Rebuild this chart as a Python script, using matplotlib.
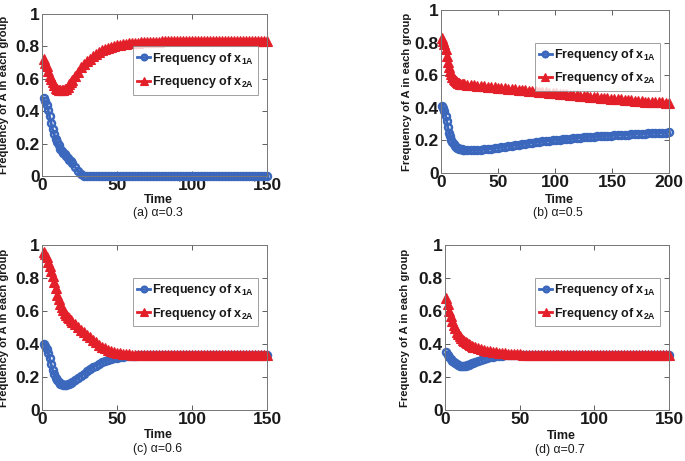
import numpy as np
import matplotlib
matplotlib.use("Agg")
import matplotlib.pyplot as plt

plt.rcParams['font.family'] = ['Liberation Sans', 'DejaVu Sans']
plt.rcParams['mathtext.default'] = 'regular'

# ---------------- data ----------------
t_a = list(range(1, 21)) + list(range(22, 151, 2))
x1_a = [0.48, 0.46, 0.44, 0.41, 0.37, 0.33, 0.29, 0.26, 0.23, 0.21,
        0.19, 0.165, 0.155, 0.145, 0.135, 0.125, 0.113, 0.10, 0.09, 0.078,
        0.055, 0.032, 0.01, 0.0, 0.0, 0.0, 0.0, 0.0, 0.0, 0.0,
        0.0, 0.0, 0.0, 0.0, 0.0, 0.0, 0.0, 0.0, 0.0, 0.0,
        0.0, 0.0, 0.0, 0.0, 0.0, 0.0, 0.0, 0.0, 0.0, 0.0,
        0.0, 0.0, 0.0, 0.0, 0.0, 0.0, 0.0, 0.0, 0.0, 0.0,
        0.0, 0.0, 0.0, 0.0, 0.0, 0.0, 0.0, 0.0, 0.0, 0.0,
        0.0, 0.0, 0.0, 0.0, 0.0, 0.0, 0.0, 0.0, 0.0, 0.0,
        0.0, 0.0, 0.0, 0.0, 0.0]
x2_a = [0.72, 0.70, 0.68, 0.65, 0.62, 0.60, 0.58, 0.56, 0.545, 0.535,
        0.53, 0.528, 0.528, 0.53, 0.535, 0.54, 0.55, 0.565, 0.58, 0.595,
        0.62, 0.645, 0.67, 0.69, 0.71, 0.725, 0.74, 0.755, 0.765, 0.775,
        0.785, 0.79, 0.797, 0.802, 0.806, 0.81, 0.813, 0.816, 0.818, 0.82,
        0.822, 0.823, 0.825, 0.826, 0.827, 0.828, 0.829, 0.83, 0.83, 0.831,
        0.832, 0.832, 0.832, 0.833, 0.833, 0.833, 0.833, 0.834, 0.834, 0.834,
        0.834, 0.834, 0.834, 0.835, 0.835, 0.835, 0.835, 0.835, 0.835, 0.835,
        0.835, 0.835, 0.835, 0.835, 0.835, 0.835, 0.835, 0.835, 0.835, 0.835,
        0.835, 0.835, 0.835, 0.835, 0.835]

t_b = list(range(1, 21)) + list(range(23, 201, 3))
x1_b = [0.41, 0.40, 0.38, 0.35, 0.32, 0.28, 0.245, 0.225, 0.205, 0.19,
        0.178, 0.168, 0.161, 0.156, 0.152, 0.149, 0.147, 0.145, 0.144, 0.143,
        0.141, 0.140, 0.140, 0.141, 0.143, 0.145, 0.147, 0.150, 0.153, 0.156,
        0.159, 0.162, 0.165, 0.168, 0.171, 0.174, 0.177, 0.180, 0.183, 0.186,
        0.189, 0.191, 0.194, 0.196, 0.198, 0.200, 0.202, 0.204, 0.206, 0.208,
        0.210, 0.212, 0.214, 0.216, 0.218, 0.219, 0.221, 0.223, 0.224, 0.226,
        0.227, 0.229, 0.230, 0.231, 0.233, 0.234, 0.235, 0.236, 0.238, 0.239,
        0.240, 0.241, 0.242, 0.243, 0.244, 0.245, 0.246, 0.247, 0.248, 0.249]
x2_b = [0.83, 0.81, 0.79, 0.76, 0.72, 0.68, 0.65, 0.625, 0.605, 0.59,
        0.578, 0.568, 0.562, 0.557, 0.553, 0.55, 0.548, 0.546, 0.544, 0.543,
        0.541, 0.539, 0.537, 0.535, 0.533, 0.531, 0.529, 0.527, 0.525, 0.523,
        0.521, 0.519, 0.517, 0.515, 0.513, 0.511, 0.509, 0.507, 0.505, 0.503,
        0.501, 0.499, 0.497, 0.495, 0.493, 0.491, 0.489, 0.487, 0.485, 0.483,
        0.481, 0.479, 0.477, 0.475, 0.473, 0.471, 0.469, 0.467, 0.465, 0.463,
        0.461, 0.459, 0.457, 0.455, 0.453, 0.451, 0.449, 0.447, 0.445, 0.443,
        0.441, 0.439, 0.438, 0.437, 0.436, 0.435, 0.434, 0.433, 0.432, 0.431]

t_c = list(range(1, 21)) + list(range(22, 151, 2))
x1_c = [0.40, 0.39, 0.37, 0.345, 0.315, 0.28, 0.245, 0.22, 0.195, 0.18,
        0.168, 0.16, 0.155, 0.152, 0.151, 0.152, 0.155, 0.159, 0.164, 0.17,
        0.182, 0.195, 0.208, 0.221, 0.234, 0.246, 0.258, 0.269, 0.279, 0.288,
        0.296, 0.303, 0.309, 0.314, 0.318, 0.321, 0.324, 0.326, 0.328, 0.329,
        0.330, 0.331, 0.332, 0.333, 0.333, 0.334, 0.334, 0.334, 0.334, 0.334,
        0.334, 0.334, 0.334, 0.334, 0.334, 0.334, 0.334, 0.334, 0.334, 0.334,
        0.334, 0.334, 0.334, 0.334, 0.334, 0.334, 0.334, 0.334, 0.334, 0.334,
        0.334, 0.334, 0.334, 0.334, 0.334, 0.334, 0.334, 0.334, 0.334, 0.334,
        0.334, 0.334, 0.334, 0.334, 0.334]
x2_c = [0.96, 0.945, 0.925, 0.90, 0.875, 0.845, 0.81, 0.775, 0.74, 0.70,
        0.67, 0.645, 0.625, 0.605, 0.59, 0.577, 0.565, 0.555, 0.545, 0.535,
        0.52, 0.505, 0.485, 0.47, 0.455, 0.44, 0.425, 0.41, 0.395, 0.383,
        0.373, 0.364, 0.357, 0.351, 0.346, 0.343, 0.34, 0.338, 0.337, 0.336,
        0.335, 0.335, 0.335, 0.335, 0.335, 0.335, 0.335, 0.335, 0.335, 0.335,
        0.335, 0.335, 0.335, 0.335, 0.335, 0.335, 0.335, 0.335, 0.335, 0.335,
        0.335, 0.335, 0.335, 0.335, 0.335, 0.335, 0.335, 0.335, 0.335, 0.335,
        0.335, 0.335, 0.335, 0.335, 0.335, 0.335, 0.335, 0.335, 0.335, 0.335,
        0.335, 0.335, 0.335, 0.335, 0.335]

t_d = list(range(1, 21)) + list(range(22, 151, 2))
x1_d = [0.35, 0.335, 0.32, 0.31, 0.30, 0.29, 0.282, 0.276, 0.271, 0.268,
        0.266, 0.266, 0.267, 0.269, 0.272, 0.275, 0.279, 0.283, 0.287, 0.291,
        0.298, 0.305, 0.311, 0.316, 0.32, 0.323, 0.326, 0.328, 0.33, 0.331,
        0.332, 0.333, 0.334, 0.334, 0.335, 0.335, 0.335, 0.335, 0.335, 0.335,
        0.335, 0.335, 0.335, 0.335, 0.335, 0.335, 0.335, 0.335, 0.335, 0.335,
        0.335, 0.335, 0.335, 0.335, 0.335, 0.335, 0.335, 0.335, 0.335, 0.335,
        0.335, 0.335, 0.335, 0.335, 0.335, 0.335, 0.335, 0.335, 0.335, 0.335,
        0.335, 0.335, 0.335, 0.335, 0.335, 0.335, 0.335, 0.335, 0.335, 0.335,
        0.335, 0.335, 0.335, 0.335, 0.335]
x2_d = [0.68, 0.64, 0.60, 0.57, 0.54, 0.515, 0.495, 0.475, 0.46, 0.447,
        0.435, 0.425, 0.417, 0.41, 0.404, 0.398, 0.393, 0.388, 0.384, 0.38,
        0.374, 0.368, 0.363, 0.358, 0.355, 0.352, 0.349, 0.347, 0.345, 0.343,
        0.341, 0.34, 0.339, 0.338, 0.337, 0.336, 0.336, 0.336, 0.336, 0.336,
        0.336, 0.336, 0.336, 0.336, 0.336, 0.336, 0.336, 0.336, 0.336, 0.336,
        0.336, 0.336, 0.336, 0.336, 0.336, 0.336, 0.336, 0.336, 0.336, 0.336,
        0.336, 0.336, 0.336, 0.336, 0.336, 0.336, 0.336, 0.336, 0.336, 0.336,
        0.336, 0.336, 0.336, 0.336, 0.336, 0.336, 0.336, 0.336, 0.336, 0.336,
        0.336, 0.336, 0.336, 0.336, 0.336]

captions = ['(a) \u03b1=0.3', '(b) \u03b1=0.5', '(c) \u03b1=0.6', '(d) \u03b1=0.7']
xmax = [150, 200, 150, 150]
xticks = [[0, 50, 100, 150], [0, 50, 100, 150, 200], [0, 50, 100, 150], [0, 50, 100, 150]]
yticks = [0, 0.2, 0.4, 0.6, 0.8, 1]
ytick_labels = ['0', '0.2', '0.4', '0.6', '0.8', '1']
label1 = 'Frequency of x$_{1A}$'
label2 = 'Frequency of x$_{2A}$'

BLUE = '#3b68bd'
RED = '#e3202a'

# ---------------- layout ----------------
W, H = 685, 461
fig = plt.figure(figsize=(W / 100, H / 100), dpi=100)

# [left, top, right, bottom] in pixels
boxes = [(42, 14, 267, 176), (441, 10, 669, 173), (42, 245, 267, 410), (445, 245, 669, 410)]
ylab_x = [9, 412, 9, 410]
time_y = [200, 200, 435, 436]
cap_y = [213, 213, 449, 450]

series = [(t_a, x1_a, x2_a), (t_b, x1_b, x2_b), (t_c, x1_c, x2_c), (t_d, x1_d, x2_d)]

for i, (l, t, r, b) in enumerate(boxes):
    ax = fig.add_axes([l / W, 1 - b / H, (r - l) / W, (b - t) / H])
    tt, y1, y2 = series[i]
    ax.plot(tt, y1, '-', color=BLUE, lw=2, marker='o', ms=5, mfc='none',
            mec=BLUE, mew=1.8, label=label1, clip_on=False)
    ax.plot(tt, y2, '-', color=RED, lw=2, marker='^', ms=7, mfc=RED,
            mec=RED, mew=0.8, label=label2, clip_on=False)
    ax.set_xlim(0, xmax[i])
    ax.set_ylim(0, 1)
    ax.set_xticks(xticks[i])
    ax.set_xticklabels([str(v) for v in xticks[i]])
    ax.set_yticks(yticks)
    ax.set_yticklabels(ytick_labels)
    ax.tick_params(direction='in', top=True, right=True, length=3.5, width=0.6,
                   colors='#444444', labelsize=12.5, pad=1.5)
    for lab in ax.get_xticklabels() + ax.get_yticklabels():
        lab.set_fontweight('bold')
        lab.set_color('#1a1a1a')
    for s in ax.spines.values():
        s.set_color('#777777')
        s.set_linewidth(0.7)
    h = b - t
    w = r - l
    ax.set_ylabel('Frequency of A in each group', fontsize=8.1, fontweight='bold',
                  color='#1a1a1a')
    ax.yaxis.set_label_coords((ylab_x[i] - l) / w, 0.5)
    ax.text(0.5 + 4 / w, -(time_y[i] - b) / h, 'Time', transform=ax.transAxes,
            ha='center', va='center', fontsize=9, fontweight='bold', color='#1a1a1a')
    ax.text(0.5 + 3 / w, -(cap_y[i] - b) / h, captions[i], transform=ax.transAxes,
            ha='center', va='center', fontsize=8.8, color='#1a1a1a')
    leg = ax.legend(loc='upper right', bbox_to_anchor=(0.96, 0.80),
                    prop={'size': 9, 'weight': 'bold'}, frameon=True, fancybox=False,
                    handlelength=1.0, handletextpad=0.15, borderpad=0.35,
                    labelspacing=0.6, borderaxespad=0, markerscale=0.8)
    leg.get_frame().set_edgecolor('#888888')
    leg.get_frame().set_linewidth(0.7)
    for txt in leg.get_texts():
        txt.set_color('#1a1a1a')

fig.savefig('out.png', dpi=100)
